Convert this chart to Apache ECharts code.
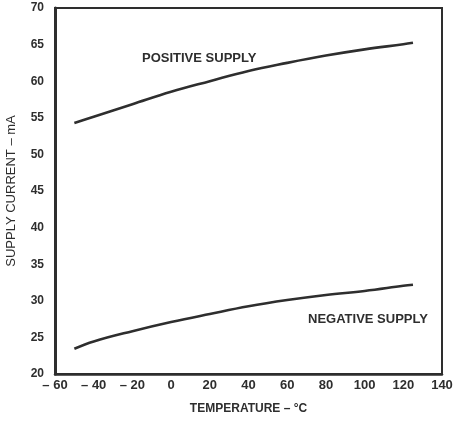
<!DOCTYPE html>
<html>
<head>
<meta charset="utf-8">
<script src="https://cdn.jsdelivr.net/npm/echarts@6/dist/echarts.min.js"></script>
<style>
  html, body { margin: 0; padding: 0; background: #fff; }
  #chart { width: 456px; height: 421px; }
</style>
</head>
<body>
<div id="chart"></div>
<script>
// Supply current versus temperature, positive and negative supplies
const temperatures = [-50, -40, -20, 0, 20, 40, 60, 80, 100, 120, 125];
const positiveSupply = [54.3, 55.15, 56.85, 58.55, 60.0, 61.4, 62.5, 63.5, 64.35, 65.05, 65.25];
const negativeSupply = [23.45, 24.45, 25.85, 27.1, 28.2, 29.25, 30.1, 30.8, 31.35, 32.05, 32.2];
const xTicks = { min: -60, max: 140, step: 20 };
const yTicks = { min: 20, max: 70, step: 5 };

const ink = '#2e2e2e';
const font = 'Liberation Sans, Arial, sans-serif';

function pairs(xs, ys) {
  return xs.map((x, i) => [x, ys[i]]);
}

const chart = echarts.init(document.getElementById('chart'), null, { renderer: 'canvas' });

chart.setOption({
  animation: false,
  backgroundColor: '#ffffff',
  grid: {
    left: 55, right: 14, top: 8, bottom: 47,
    containLabel: false,
    outerBoundsMode: 'none',
    show: true,
    borderColor: ink,
    borderWidth: 2,
    backgroundColor: 'transparent'
  },
  xAxis: {
    type: 'value',
    min: xTicks.min, max: xTicks.max, interval: xTicks.step,
    name: 'TEMPERATURE – °C',
    nameLocation: 'middle',
    nameGap: 29,
    nameTextStyle: { color: ink, fontFamily: font, fontWeight: 'bold', fontSize: 12 },
    axisLine: { show: true, onZero: false, lineStyle: { color: ink, width: 2.5 } },
    axisTick: { show: false },
    splitLine: { show: false },
    axisLabel: {
      color: ink, fontFamily: font, fontWeight: 'bold', fontSize: 13, margin: 5,
      formatter: v => (v < 0 ? '– ' + Math.abs(v) : String(v))
    }
  },
  yAxis: {
    type: 'value',
    min: yTicks.min, max: yTicks.max, interval: yTicks.step,
    name: 'SUPPLY CURRENT – mA',
    nameLocation: 'middle',
    nameGap: 37,
    nameRotate: 90,
    nameTextStyle: { color: ink, fontFamily: font, fontSize: 13 },
    axisLine: { show: true, onZero: false, lineStyle: { color: ink, width: 3 } },
    axisTick: { show: false },
    splitLine: { show: false },
    axisLabel: { color: ink, fontFamily: font, fontWeight: 'bold', fontSize: 12, margin: 11 }
  },
  series: [
    {
      name: 'POSITIVE SUPPLY',
      type: 'line',
      smooth: 0.4,
      symbol: 'none',
      data: pairs(temperatures, positiveSupply),
      lineStyle: { color: ink, width: 2.6 }
    },
    {
      name: 'NEGATIVE SUPPLY',
      type: 'line',
      smooth: 0.4,
      symbol: 'none',
      data: pairs(temperatures, negativeSupply),
      lineStyle: { color: ink, width: 2.6 }
    }
  ],
  graphic: [
    {
      type: 'text', left: 142, top: 52,
      style: { text: 'POSITIVE SUPPLY', fill: ink, font: 'bold 13px ' + font }
    },
    {
      type: 'text', left: 308, top: 313,
      style: { text: 'NEGATIVE SUPPLY', fill: ink, font: 'bold 13px ' + font }
    }
  ]
});
</script>
</body>
</html>
